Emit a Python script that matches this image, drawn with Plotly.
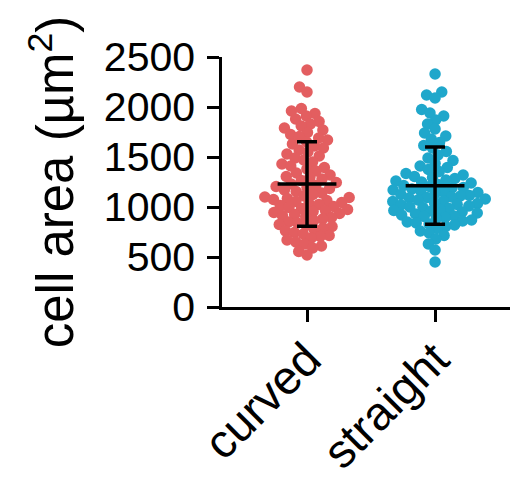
import numpy as np
import plotly.graph_objects as go

categories = ["curved", "straight"]

curved = [
    2370, 2200, 2150,
    1985, 1960, 1935, 1910,
    1880, 1855, 1830, 1810,
    1790, 1770, 1745, 1725, 1705,
    1690, 1670, 1650, 1630, 1610,
    1590, 1570, 1550, 1530, 1510,
    1490, 1470, 1450, 1430, 1410,
    1395, 1380, 1360, 1340, 1320, 1305,
    1295, 1280, 1265, 1245, 1230, 1215, 1205,
    1195, 1185, 1170, 1155, 1140, 1125, 1110, 1100,
    1095, 1085, 1075, 1065, 1055, 1045, 1035, 1025, 1015, 1005,
    995, 985, 975, 965, 955, 945, 935, 925, 915, 905,
    895, 880, 865, 850, 840, 825, 815, 805,
    790, 775, 760, 745, 730, 715, 705,
    690, 670, 650, 630, 610,
    590, 555, 520,
]

straight = [
    2330,
    2150, 2120, 2090,
    1975, 1940, 1910,
    1870, 1830,
    1780, 1740, 1710,
    1680, 1645, 1615,
    1590, 1555, 1520,
    1490, 1465, 1435, 1410,
    1395, 1375, 1355, 1335, 1320, 1305,
    1295, 1285, 1270, 1260, 1250, 1240, 1225, 1215, 1205,
    1195, 1190, 1180, 1170, 1160, 1150, 1145, 1135, 1125, 1115, 1110, 1100,
    1095, 1090, 1080, 1070, 1060, 1055, 1045, 1035, 1025, 1020, 1010, 1000,
    995, 985, 975, 965, 960, 950, 940, 930, 920, 910, 905,
    895, 885, 870, 860, 850, 840, 830, 820, 805,
    785, 760, 740, 715,
    680, 630,
    570,
    450,
]

y_ticks = [0, 500, 1000, 1500, 2000, 2500]
colors = ["#E35E60", "#1FA7CB"]

# page body has an 8px margin, so the figure is offset by 8px
W, H = 510, 471
ML, MR, MT, MB = 214, 1, 49, 172
XR = [-0.664, 1.64]
YR = [0, 2500]
plot_w = W - ML - MR
plot_h = H - MT - MB
xpx = plot_w / (XR[1] - XR[0])
ypx = plot_h / (YR[1] - YR[0])


def swarm(values, dpx=9.0):
    vals = np.asarray(values, dtype=float)
    order = np.argsort(vals)
    placed = []
    offs = np.zeros(len(vals))
    for i in order:
        y = vals[i] * ypx
        ivs = []
        for xo, yo in placed:
            dy = abs(y - yo)
            if dy < dpx:
                h = np.sqrt(dpx * dpx - dy * dy)
                ivs.append((xo - h, xo + h))
        cands = [0.0] + [a for a, b in ivs] + [b for a, b in ivs]
        cands.sort(key=lambda c: (abs(c), c))
        chosen = 0.0
        for c in cands:
            if all(not (a + 1e-6 < c < b - 1e-6) for a, b in ivs):
                chosen = c
                break
        offs[i] = chosen / xpx
        placed.append((chosen, y))
    return offs


fig = go.Figure()
groups = [curved, straight]
for gi, (name, vals) in enumerate(zip(categories, groups)):
    offs = swarm(vals)
    fig.add_trace(go.Scatter(
        x=gi + offs, y=vals, mode="markers",
        marker=dict(size=11.5, color=colors[gi], line=dict(width=0)),
        showlegend=False, cliponaxis=False, hoverinfo="y",
    ))

for gi, vals in enumerate(groups):
    m = float(np.mean(vals))
    sd = float(np.std(vals, ddof=1))
    fig.add_trace(go.Scatter(
        x=[gi], y=[m], mode="markers",
        marker=dict(symbol="line-ew-open", size=42,
                    line=dict(width=3.5, color="black"), color="black"),
        error_y=dict(type="data", array=[sd], visible=True,
                     color="black", thickness=3.5, width=10),
        showlegend=False, cliponaxis=False,
    ))

font_family = "Arial, Liberation Sans, Helvetica, sans-serif"

fig.update_layout(
    width=W, height=H,
    margin=dict(l=ML, r=MR, t=MT, b=MB, pad=0, autoexpand=False),
    paper_bgcolor="white", plot_bgcolor="white",
    font=dict(family=font_family, color="black"),
    xaxis=dict(
        range=XR, tickmode="array", tickvals=[0, 1], ticktext=categories,
        tickangle=-45, tickfont=dict(size=47, family=font_family),
        ticks="outside", ticklen=12, tickwidth=2.5, tickcolor="black",
        ticklabelstandoff=-9,
        showline=True, linewidth=2.5, linecolor="black",
        showgrid=False, zeroline=False, automargin=False,
    ),
    yaxis=dict(
        range=YR, tickmode="array", tickvals=y_ticks,
        ticktext=[str(v) for v in y_ticks],
        tickfont=dict(size=41, family=font_family),
        ticks="outside", ticklen=12, tickwidth=2.5, tickcolor="black",
        ticklabelstandoff=4,
        showline=True, linewidth=2.5, linecolor="black",
        showgrid=False, zeroline=False, automargin=False,
        title=dict(text="cell area (µm<sup>2</sup>)",
                   font=dict(size=51, family=font_family), standoff=14),
    ),
)

fig.write_html("out.html")
